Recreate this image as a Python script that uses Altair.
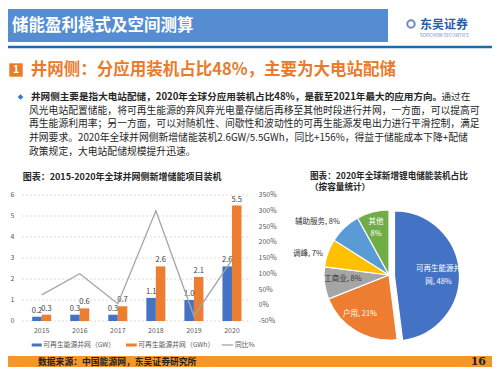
import altair as alt
import pandas as pd

FONT = "Noto Sans CJK SC"

# ---------------- data ----------------
years = ["2015", "2016", "2017", "2018", "2019", "2020"]
gw = [0.2, 0.3, 0.3, 1.1, 1.0, 2.6]
gwh = [0.3, 0.6, 0.7, 2.6, 2.1, 5.5]
yoy = [33, 100, 5, 300, -34, 144]
left_ticks = [0, 1, 2, 3, 4, 5, 6]
right_ticks = [-50, 0, 50, 100, 150, 200, 250, 300, 350]
series_names = ["可再生能源并网（GW）", "可再生能源并网（GWh）"]
series_colors = ["#4472C4", "#ED7D31"]
line_name = "同比%"

pie_cats = ["可再生能源并网", "户用", "工商业", "调峰", "辅助服务", "其他"]
pie_vals = [48, 21, 8, 7, 8, 8]
pie_colors = ["#4472C4", "#ED7D31", "#A5A5A5", "#FFC000", "#5B9BD5", "#70AD47"]

header_title = "储能盈利模式及空间测算"
logo_cn = "东吴证券"
logo_en = "SOOCHOW SECURITIES"
section_no = "1"
section_title = "井网侧：分应用装机占比48%，主要为大电站配储"
para_bold = "井网侧主要是指大电站配储，2020年全球分应用装机占比48%，是截至2021年最大的应用方向。"
para_tail = "通过在"
para_lines = [
    "风光电站配置储能，将可再生能源的弃风弃光电量存储后再移至其他时段进行并网，一方面，可以提高可",
    "再生能源利用率；另一方面，可以对随机性、间歇性和波动性的可再生能源发电出力进行平滑控制，满足",
    "并网要求。2020年全球并网侧新增储能装机2.6GW/5.5GWh，同比+156%，得益于储能成本下降+配储",
    "政策规定，大电站配储规模提升迅速。",
]
left_title = "图表：2015-2020年全球并网侧新增储能项目装机"
right_title = ["图表：2020年全球新增锂电储能装机占比", "（按容量统计）"]
source = "数据来源：中国能源网，东吴证券研究所"
page_no = "16"

one = pd.DataFrame({"a": [0]})


def txt(s, x, y, size, color="#262626", weight="normal", align="left",
        font=FONT, baseline="middle", line_height=None):
    kw = dict(align=align, baseline=baseline, fontSize=size, color=color,
              fontWeight=weight, font=font)
    if line_height is not None:
        kw["lineBreak"] = "\n"
        kw["lineHeight"] = line_height
    return alt.Chart(pd.DataFrame({"t": [s]})).mark_text(**kw).encode(
        text="t:N", x=alt.value(x), y=alt.value(y))


def rect(x, x2, y, y2, color):
    return alt.Chart(one).mark_rect(color=color).encode(
        x=alt.value(x), x2=alt.value(x2), y=alt.value(y), y2=alt.value(y2))


def hrule(x, x2, y, color, w, dash=None):
    kw = dict(color=color, strokeWidth=w)
    if dash:
        kw["strokeDash"] = dash
    return alt.Chart(one).mark_rule(**kw).encode(
        x=alt.value(x), x2=alt.value(x2), y=alt.value(y))


# ---------------- decorations ----------------
deco = [
    rect(0, 380, 1, 34, "#568CD2"),
    txt(header_title, 4, 17.5, 16.5, color="white", weight="bold"),
    alt.Chart(one).mark_point(shape="circle", filled=False, color="#2A5CAA",
                              strokeWidth=2, size=55).encode(
        x=alt.value(403), y=alt.value(16)),
    txt(logo_cn, 412, 17, 12, color="#2A5CAA", weight="bold"),
    txt(logo_en, 412, 27.5, 4.5, color="#6A86B8"),
    hrule(0, 484, 39, "#1F6BA8", 2.5),
    rect(1.3, 14.7, 55.3, 68.7, "#EE7A22"),
    txt(section_no, 8, 62, 10.5, color="white", weight="bold", align="center"),
    txt(section_title, 22.7, 61.5, 16.5, color="#EA7B2C", weight="bold"),
    alt.Chart(one).mark_point(shape="diamond", filled=True, color="#2E7BC4",
                              size=32, opacity=1).encode(
        x=alt.value(12.5), y=alt.value(89)),
    txt(para_bold, 23, 89, 9.6, weight="bold"),
    txt(para_tail, 433.5, 89, 9.6),
]
for i, line in enumerate(para_lines):
    deco.append(txt(line, 21, 102.7 + 13.7 * i, 9.8))
deco += [
    txt(left_title, 14.7, 168.7, 9, weight="bold"),
    txt(right_title[0], 302, 168, 8.6, weight="bold"),
    txt(right_title[1], 302, 179, 8.6, weight="bold"),
    # bar-chart legend
    rect(23.7, 33.7, 335.5, 338.5, series_colors[0]),
    txt(series_names[0], 35.3, 337, 6.8, color="#595959"),
    rect(118, 128.7, 335.5, 338.5, series_colors[1]),
    txt(series_names[1], 130.3, 337, 6.8, color="#595959"),
    hrule(213.7, 225, 337, "#A5A5A5", 1.3),
    txt(line_name, 227, 337, 6.8, color="#595959"),
    # footer
    rect(0, 484, 348, 359, "#F5962A"),
    txt(source, 30, 354, 8.8, color="#222222", weight="bold"),
    txt(page_no, 478, 354, 11, color="#222222", weight="bold",
        align="right", font="DejaVu Serif"),
]

# ---------------- bar chart ----------------
bar_df = pd.DataFrame({
    "year": years * 2,
    "series": [series_names[0]] * len(years) + [series_names[1]] * len(years),
    "value": gw + gwh,
})
xband = alt.Scale(domain=years, range=[14.65, 243], paddingInner=0.5, paddingOuter=0.25)
xoff = alt.Scale(domain=series_names, paddingInner=0, paddingOuter=0)
yl = alt.Scale(domain=[0, 6], range=[313, 187], nice=False)
xpoint = alt.Scale(type="point", domain=years, range=[33.7, 224], padding=0)
yr = alt.Scale(domain=[-50, 350], range=[313, 187], nice=False, zero=False)

grid = alt.Chart(pd.DataFrame({"tick": left_ticks})).mark_rule(
    color="#D3D3D3", strokeDash=[2, 2], strokeWidth=0.8).encode(
    y=alt.Y("tick:Q", scale=yl, axis=None), x=alt.value(14), x2=alt.value(243))
left_lab = alt.Chart(pd.DataFrame({"tick": left_ticks})).mark_text(
    align="right", fontSize=7, color="#595959", font=FONT).encode(
    y=alt.Y("tick:Q", scale=yl, axis=None), x=alt.value(6.5), text="tick:Q")
bars = alt.Chart(bar_df).mark_bar().encode(
    x=alt.X("year:N", scale=xband, axis=None),
    xOffset=alt.XOffset("series:N", scale=xoff),
    y=alt.Y("value:Q", scale=yl, axis=None),
    color=alt.Color("series:N", scale=alt.Scale(domain=series_names, range=series_colors), legend=None),
)
bar_lab = alt.Chart(bar_df).mark_text(
    baseline="bottom", dy=-2, fontSize=7.5, color="#404040", font=FONT).encode(
    x=alt.X("year:N", scale=xband, axis=None),
    xOffset=alt.XOffset("series:N", scale=xoff),
    y=alt.Y("value:Q", scale=yl, axis=None),
    text=alt.Text("value:Q", format=".1f"),
)
layer_a = alt.layer(grid, bars, bar_lab, left_lab)

line_df = pd.DataFrame({"year": years, "yoy": yoy})
line = alt.Chart(line_df).mark_line(color="#A5A5A5", strokeWidth=1.3).encode(
    x=alt.X("year:N", scale=xpoint, axis=None),
    y=alt.Y("yoy:Q", scale=yr, axis=None))
right_lab = alt.Chart(pd.DataFrame({"tick": right_ticks})).transform_calculate(
    lab="datum.tick + '%'").mark_text(
    align="left", fontSize=7, color="#595959", font=FONT).encode(
    y=alt.Y("tick:Q", scale=yr, axis=None), x=alt.value(250.5), text="lab:N")
x_lab = alt.Chart(pd.DataFrame({"year": years})).mark_text(
    fontSize=7, color="#595959", font=FONT).encode(
    x=alt.X("year:N", scale=xpoint, axis=None), y=alt.value(323), text="year:N")
layer_b = alt.layer(line, right_lab, x_lab)

# ---------------- pie chart ----------------
pie_df = pd.DataFrame({"cat": pie_cats, "val": pie_vals, "idx": list(range(len(pie_cats)))})
pie_base = alt.Chart(pie_df).encode(
    theta=alt.Theta("val:Q", stack=True),
    order=alt.Order("idx:Q"),
    color=alt.Color("cat:N", scale=alt.Scale(domain=pie_cats, range=pie_colors), legend=None),
)
is_first = f"datum.cat === '{pie_cats[0]}'"
pie_rest = pie_base.mark_arc(outerRadius=65, stroke="white", strokeWidth=1.2).encode(
    x=alt.value(381), y=alt.value(267),
    opacity=alt.condition(is_first, alt.value(0), alt.value(1)))
pie_main = pie_base.mark_arc(outerRadius=65, stroke="white", strokeWidth=1.2).encode(
    x=alt.value(386.5), y=alt.value(268),
    opacity=alt.condition(is_first, alt.value(1), alt.value(0)))
layer_p = alt.layer(pie_rest, pie_main)


def plab(i, x, y, color):
    s = f"{pie_cats[i]}, {pie_vals[i]}%"
    return txt(s, x, y, 7.5, color=color, align="center")


pie_labels = [
    txt(pie_cats[0][:6] + "\n" + pie_cats[0][6:] + f", {pie_vals[0]}%", 430.5, 260.5, 7.5,
        color="white", align="center", line_height=13.5),
    plab(1, 352, 306, "white"),
    plab(2, 335, 271.3, "#333333"),
    plab(3, 300, 246.3, "#333333"),
    plab(4, 309.5, 213.7, "#333333"),
    txt(pie_cats[5] + "\n" + f"{pie_vals[5]}%", 368, 214.3, 7.5, color="white",
        align="center", line_height=12),
]

chart = alt.layer(*deco, layer_a, layer_b, layer_p, *pie_labels).resolve_scale(
    x="independent", y="independent", color="independent", theta="independent"
).properties(
    width=484, height=359, padding=0,
    autosize=alt.AutoSizeParams(type="none"),
    background="white",
).configure_view(stroke=None)

chart.save("out.html", embed_options={"renderer": "svg", "actions": False})
